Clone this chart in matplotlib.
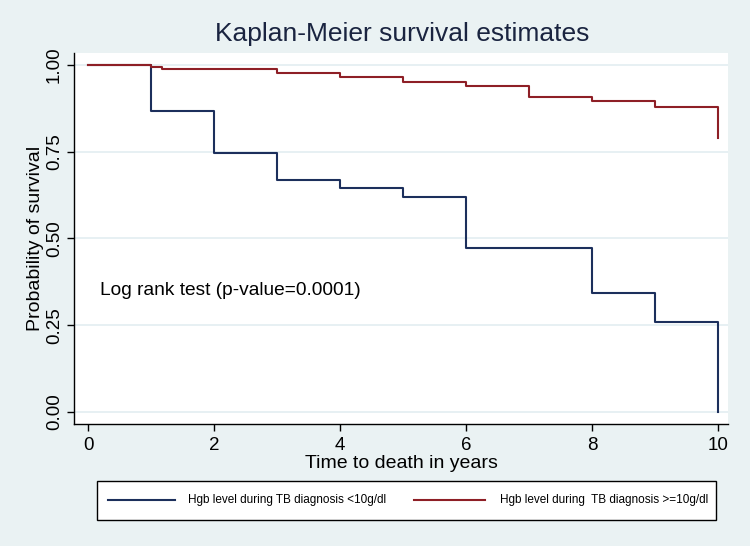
import matplotlib
matplotlib.use("Agg")
import matplotlib.pyplot as plt
from matplotlib.lines import Line2D
from matplotlib.patches import Rectangle

# ── Data ─────────────────────────────────────────────────────────────────────
time_low = [0, 1, 2, 3, 4, 5, 6, 8, 9, 10]
surv_low = [1.0, 0.866, 0.745, 0.669, 0.645, 0.620, 0.4735, 0.343, 0.260, 0.0]

time_high = [0, 1, 1.17, 3, 4, 5, 6, 7, 8, 9, 10]
surv_high = [1.0, 0.993, 0.9875, 0.976, 0.965, 0.951, 0.940, 0.907, 0.895, 0.879, 0.790]

x_ticks = [0, 2, 4, 6, 8, 10]
y_ticks = [0.0, 0.25, 0.50, 0.75, 1.00]
y_ticklabels = ["0.00", "0.25", "0.50", "0.75", "1.00"]

label_low = "Hgb level during TB diagnosis <10g/dl"
label_high = "Hgb level during  TB diagnosis >=10g/dl"

BG = "#eaf2f3"
GRID = "#e3eef1"
NAVY = "#1c2f5c"
MAROON = "#8e1f26"

plt.rcParams.update({
    "font.family": ["Liberation Sans", "DejaVu Sans"],
})

W, H = 750, 546
fig = plt.figure(figsize=(7.5, 5.46), dpi=100, facecolor=BG)
ax = fig.add_axes([74 / W, 1 - 424 / H, 654 / W, 371 / H])
ax.set_facecolor("white")

ax.step(time_low, surv_low, where="post", color=NAVY, lw=1.5)
ax.step(time_high, surv_high, where="post", color=MAROON, lw=1.5)

ax.set_xlim(-14 / 63, 10 + 10 / 63)
ax.set_ylim(-12 / 347, 1 + 12 / 347)

ax.set_xticks(x_ticks)
ax.set_yticks(y_ticks)
ax.set_yticklabels(y_ticklabels, rotation=90, va="center")
ax.tick_params(axis="both", labelsize=13.5, length=5, width=1, color="black",
               labelcolor="black")
ax.tick_params(axis="x", pad=4)
ax.tick_params(axis="y", pad=3)

ax.yaxis.grid(True, color=GRID, lw=1.2)
ax.set_axisbelow(True)
for s in ["top", "right"]:
    ax.spines[s].set_visible(False)
for s in ["left", "bottom"]:
    ax.spines[s].set_color("black")
    ax.spines[s].set_linewidth(1)

ax.set_xlabel("Time to death in years", fontsize=14, labelpad=1)
ax.set_ylabel("Probability of survival", fontsize=14, labelpad=1)

ax.text(0.19, 0.349, "Log rank test (p-value=0.0001)", fontsize=13.8,
        ha="left", va="center", color="black")

fig.text(402 / W, 1 - 34 / H, "Kaplan-Meier survival estimates", fontsize=19,
         ha="center", va="center", color="#1a2440")

# ── Legend box (drawn in figure pixels) ──────────────────────────────────────
fig.patches.append(Rectangle((97 / W, 1 - 520 / H), 619 / W, 39 / H,
                             transform=fig.transFigure, facecolor="white",
                             edgecolor="black", lw=1))
ly = 1 - 500 / H
fig.lines.append(Line2D([108 / W, 175 / W], [ly, ly], transform=fig.transFigure,
                        color=NAVY, lw=1.5))
fig.lines.append(Line2D([414 / W, 485 / W], [ly, ly], transform=fig.transFigure,
                        color=MAROON, lw=1.5))
fig.text(188 / W, ly, label_low, fontsize=8.5, ha="left", va="center")
fig.text(500 / W, ly, label_high, fontsize=8.5, ha="left", va="center")

fig.savefig("out.png", dpi=100, facecolor=BG)
